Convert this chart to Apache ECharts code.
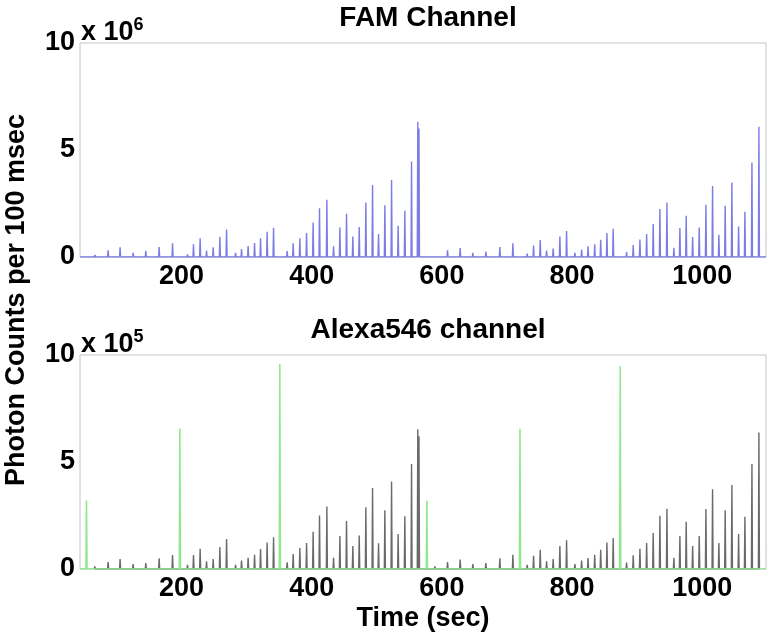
<!DOCTYPE html>
<html>
<head>
<meta charset="utf-8">
<script src="https://cdn.jsdelivr.net/npm/echarts@6/dist/echarts.min.js"></script>
<style>html,body{margin:0;padding:0;background:#fff}#c{width:768px;height:635px}</style>
</head>
<body>
<div id="c"></div>
<script>
// Spike times (sec) shared by both channels
const spikeTimes = [66.8,87.2,105.6,125.6,145.1,165.6,186.2,209.2,218.4,228.6,238.4,248.6,258.9,269.2,283.0,292.2,302.3,312.2,321.4,331.5,341.4,
  362.3,371.5,381.8,392.1,402.2,412.0,423.3,433.6,443.3,453.5,463.2,473.0,483.2,493.5,502.7,512.4,522.7,532.8,543.1,553.4,563.0,564.8,
  589.3,608.7,628.1,647.6,667.6,689.1,709.1,731.1,740.9,751.1,760.9,771.0,781.3,791.6,804.4,814.7,824.6,834.8,844.0,853.6,863.2,
  883.8,894.0,904.3,914.6,924.7,935.0,945.8,956.5,965.7,975.4,985.3,995.4,1005.7,1015.9,1025.6,1035.3,1045.6,1055.9,1065.6,1076.4,1087.1];
// FAM channel peak heights (x 10^6)
const famValues = [0.10,0.31,0.45,0.20,0.28,0.47,0.64,0.12,0.60,0.88,0.30,0.45,0.95,1.29,0.19,0.37,0.51,0.65,0.87,1.18,1.37,
  0.28,0.64,0.88,1.12,1.61,2.28,2.67,0.50,1.38,2.02,0.96,1.40,2.55,3.37,1.07,2.42,3.60,1.46,2.16,4.46,6.32,6.00,
  0.09,0.31,0.42,0.20,0.25,0.47,0.64,0.16,0.54,0.79,0.30,0.39,0.96,1.21,0.19,0.35,0.50,0.60,0.80,1.12,1.32,
  0.23,0.56,0.82,1.07,1.54,2.24,2.55,0.43,1.35,1.93,0.93,1.38,2.44,3.32,1.04,2.39,3.48,1.43,2.11,4.41,6.09];
// Alexa546 channel crosstalk heights (x 10^5)
const alexaValues = [0.12,0.33,0.47,0.23,0.28,0.50,0.65,0.19,0.65,0.95,0.36,0.47,1.03,1.40,0.19,0.40,0.53,0.67,0.93,1.24,1.48,
  0.31,0.70,0.98,1.21,1.74,2.50,2.92,0.53,1.54,2.24,1.07,1.57,2.88,3.78,1.20,2.74,4.09,1.63,2.46,4.91,6.53,6.20,
  0.12,0.33,0.44,0.23,0.28,0.50,0.67,0.19,0.62,0.90,0.36,0.47,1.07,1.34,0.23,0.40,0.51,0.67,0.90,1.24,1.45,
  0.30,0.64,0.95,1.21,1.68,2.49,2.81,0.53,1.54,2.21,1.07,1.54,2.80,3.73,1.21,2.75,3.93,1.63,2.44,4.91,6.38];
// Alexa546 channel own peaks (x 10^5)
const greenTimes = [54.0,197.4,351.0,577.0,720.0,874.0];
const greenValues = [3.20,6.55,9.58,3.19,6.55,9.49];
const xTicks = [200,400,600,800,1000];
const yTicks = [0,5,10];
const xMin = 44, xMax = 1098;

function spikes(times, vals, baseline){
  const w = 0.8, out = [];
  if (baseline) out.push([xMin,0]);
  times.forEach((t,i)=>{ out.push([t-w,0],[t,vals[i]],[t+w,0]); });
  if (baseline) out.push([xMax,0]);
  return out;
}

const FONT = '"Liberation Sans", Arial, sans-serif';
const FS = 27;
const chart = echarts.init(document.getElementById('c'));
const xAxisBase = (gi, withName) => ({
  type:'value', gridIndex:gi, min:xMin, max:xMax,
  axisLine:{show:false}, splitLine:{show:false},
  axisTick:{show:false},
  axisLabel:{customValues:xTicks, formatter:v=>String(v), fontFamily:FONT, fontWeight:'bold', fontSize:FS, color:'#000', margin:6},
  name: withName ? 'Time (sec)' : '', nameLocation:'middle', nameGap:36,
  nameTextStyle:{fontFamily:FONT, fontWeight:'bold', fontSize:FS, color:'#000'}
});
const yAxisBase = (gi) => ({
  type:'value', gridIndex:gi, min:0, max:10, interval:5,
  axisLine:{show:false}, splitLine:{show:false}, axisTick:{show:false},
  axisLabel:{customValues:yTicks, formatter:v=>String(v), fontFamily:FONT, fontWeight:'bold', fontSize:FS, color:'#000', margin:5}
});
const supRich = {s:{fontSize:18, fontWeight:'bold', fontFamily:FONT, verticalAlign:'top', padding:[0,0,16,0]}};
chart.setOption({
  animation:false,
  backgroundColor:'#fff',
  title:[
    {text:'FAM Channel', left:423, top:-1, textAlign:'center', textStyle:{fontFamily:FONT, fontWeight:'bold', fontSize:28, color:'#000'}},
    {text:'Alexa546 channel', left:423, top:311, textAlign:'center', textStyle:{fontFamily:FONT, fontWeight:'bold', fontSize:28, color:'#000'}}
  ],
  grid:[
    {left:80, top:43, width:686, height:214, show:true, borderColor:'#c4c4c4', borderWidth:1, backgroundColor:'#fff'},
    {left:80, top:355, width:686, height:214, show:true, borderColor:'#c4c4c4', borderWidth:1, backgroundColor:'#fff'}
  ],
  xAxis:[xAxisBase(0,false), xAxisBase(1,true)],
  yAxis:[yAxisBase(0), yAxisBase(1)],
  graphic:[
    {type:'text', x:17, y:300, rotation:Math.PI/2, style:{text:'Photon Counts per 100 msec', fontFamily:FONT, fontWeight:'bold', fontSize:FS, fill:'#000', align:'center', verticalAlign:'middle'}},
    {type:'text', x:81, y:16, style:{text:'x 10{s|6}', rich:supRich, fontFamily:FONT, fontWeight:'bold', fontSize:FS, fill:'#000'}},
    {type:'text', x:81, y:328, style:{text:'x 10{s|5}', rich:supRich, fontFamily:FONT, fontWeight:'bold', fontSize:FS, fill:'#000'}}
  ],
  series:[
    {type:'line', xAxisIndex:0, yAxisIndex:0, data:spikes(spikeTimes, famValues, true), showSymbol:false, symbol:'none',
      lineStyle:{color:'#7c7ce4', width:1.4}},
    {type:'line', xAxisIndex:1, yAxisIndex:1, data:spikes(spikeTimes, alexaValues, false), showSymbol:false, symbol:'none',
      lineStyle:{color:'#6a6a6a', width:1.4}},
    {type:'line', xAxisIndex:1, yAxisIndex:1, data:spikes(greenTimes, greenValues, true), showSymbol:false, symbol:'none', z:3,
      lineStyle:{color:'#8fe88f', width:1.6}}
  ]
});
</script>
</body>
</html>
